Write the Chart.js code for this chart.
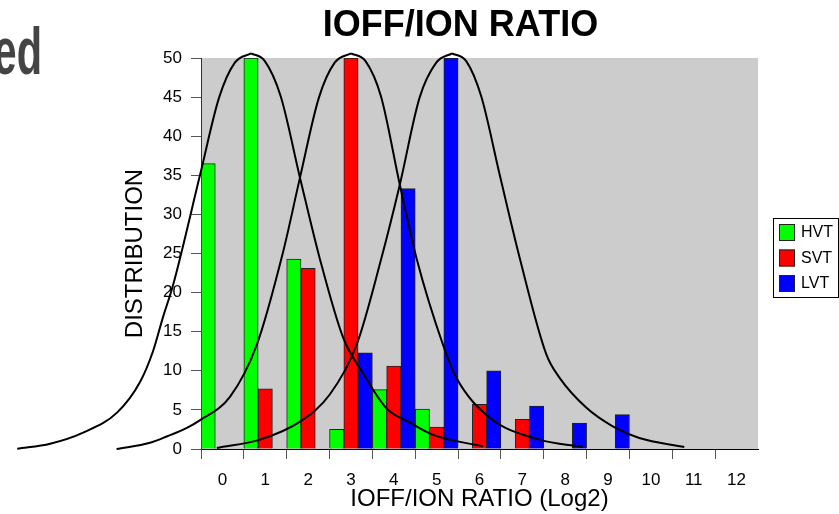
<!DOCTYPE html>
<html>
<head>
<meta charset="utf-8">
<script src="https://cdn.jsdelivr.net/npm/chart.js@4.4.1/dist/chart.umd.min.js"></script>
<style>
html,body{margin:0;padding:0;background:#fff;overflow:hidden}
#wrap{position:relative;width:839px;height:514px}
#wrap canvas{position:absolute;left:0;top:0}
#fit{pointer-events:none}
</style>
</head>
<body>
<div id="wrap"><canvas id="c" width="839" height="514"></canvas><canvas id="fit" width="839" height="514"></canvas></div>
<script>
// ---- data ----
const chartTitle = 'IOFF/ION RATIO';
const cornerText = 'ed';
const xTitle = 'IOFF/ION RATIO (Log2)';
const yTitle = 'DISTRIBUTION';
const categories = ['0','1','2','3','4','5','6','7','8','9','10','11','12'];
const seriesNames = ['HVT','SVT','LVT'];
const hvt = [36.5, 50, 24.3, 2.5, 7.6, 5.1, 0, 0, 0, 0, 0, 0, 0];
const svt = [0, 7.7, 23.1, 50, 10.6, 2.8, 5.7, 3.8, 0, 0, 0, 0, 0];
const lvt = [0, 0, 0, 12.3, 33.3, 50, 10.0, 5.5, 3.3, 4.4, 0, 0, 0];
const yTicks = [0, 5, 10, 15, 20, 25, 30, 35, 40, 45, 50];

// fitted curves (x in category units, y in distribution units)
const hvtFitX = [-4.79, -4.02, -3.25, -2.46, -1.92, -1.62, -1.39, -1.15, -0.52, -0.08, 0.29, 0.67, 0.99, 1.36, 1.81, 2.27, 2.82, 3.28, 3.83, 4.37, 4.92, 6.08];
const hvtFitY = [0.04, 0.68, 2.1, 4.65, 8.6, 12.5, 16.8, 21.0, 35.1, 44.9, 49.4, 50.6, 49.6, 45.1, 34.7, 24.4, 14.2, 9.7, 5.2, 3.4, 1.8, 0.33];
const svtFitX = [-2.47, -1.69, -1.30, -0.83, -0.52, 0.18, 0.80, 1.42, 1.81, 2.25, 2.62, 3.00, 3.34, 3.70, 4.14, 4.53, 5.15, 5.46, 6.24, 7.40, 8.41];
const svtFitY = [0.0, 0.8, 1.6, 2.7, 3.7, 6.7, 13.3, 25.3, 34.7, 44.9, 49.4, 50.6, 49.6, 45.1, 33.8, 24.4, 13.3, 9.1, 4.0, 1.2, 0.26];
const lvtFitX = [-0.13, 0.88, 1.81, 2.51, 3.13, 3.71, 4.14, 4.60, 4.99, 5.36, 5.69, 6.04, 6.47, 6.94, 7.56, 7.87, 8.49, 9.11, 9.73, 10.78];
const lvtFitY = [0.13, 1.2, 3.5, 7.0, 13.3, 24.4, 33.8, 44.9, 49.4, 50.6, 49.6, 45.1, 35.1, 24.4, 12.1, 9.1, 5.3, 2.9, 1.4, 0.26];

// ---- styles / layout ----
const FONT = '"Liberation Sans", Arial, Helvetica, sans-serif';
const barColors = ['#00ff00', '#ff0000', '#0000ff'];
const AREA = { left: 201, right: 81, top: 58, bottom: 65 }; // plot-area margins

const toPts = (xs, ys) => xs.map((x, i) => ({x: x, y: ys[i]}));

const decor = {
  id: 'decor',
  beforeDraw(chart) {
    const {ctx, chartArea: a} = chart;
    ctx.save();
    ctx.fillStyle = '#cccccc';
    ctx.fillRect(a.left, a.top, a.right - a.left, a.bottom - a.top);
    ctx.restore();
  },
  afterDraw(chart) {
    const ctx = chart.ctx;
    ctx.save();
    ctx.fillStyle = '#000';
    ctx.font = 'bold 36px ' + FONT;
    ctx.textAlign = 'center';
    ctx.textBaseline = 'alphabetic';
    ctx.fillText(chartTitle, 460.5, 36);
    ctx.save();
    ctx.fillStyle = '#444444';
    ctx.font = 'bold 67px ' + FONT;
    ctx.textAlign = 'right';
    ctx.scale(0.62, 1);
    ctx.fillText(cornerText, 42 / 0.62, 74);
    ctx.restore();
    const bars = chart.data.datasets;
    ctx.strokeStyle = '#000';
    ctx.lineWidth = 1;
    ctx.strokeRect(773.5, 218.5, 65, 79);
    ctx.font = '16px ' + FONT;
    ctx.textAlign = 'left';
    ctx.textBaseline = 'middle';
    bars.forEach((d, i) => {
      const top = 224 + i * 25.5;
      ctx.fillStyle = d.backgroundColor;
      ctx.fillRect(779, top, 16, 17);
      ctx.strokeStyle = '#222';
      ctx.strokeRect(779.5, top + 0.5, 15, 16);
      ctx.fillStyle = '#000';
      ctx.fillText(d.label, 801, top + 9);
    });
    ctx.restore();
  }
};

// ---- bar chart with axes ----
new Chart(document.getElementById('c'), {
  type: 'bar',
  data: {
    labels: categories,
    datasets: [hvt, svt, lvt].map((vals, i) => ({
      label: seriesNames[i], data: vals,
      backgroundColor: barColors[i], borderColor: '#222', borderWidth: 1,
      barPercentage: 1, categoryPercentage: 1
    }))
  },
  options: {
    responsive: false,
    animation: false,
    events: [],
    layout: { padding: { left: 0, right: AREA.right, top: AREA.top, bottom: 0 } },
    plugins: { legend: { display: false }, tooltip: { enabled: false }, title: { display: false } },
    scales: {
      x: {
        type: 'category', position: 'bottom', offset: true,
        grid: {
          display: true, drawOnChartArea: false, drawTicks: true, tickLength: 10, offset: true,
          color: ctx => ctx.type === 'tick' ? '#555' : 'rgba(0,0,0,0)', lineWidth: 1
        },
        border: { display: true, color: '#000', width: 1 },
        ticks: { color: '#000', font: { family: FONT, size: 17 }, padding: 11, maxRotation: 0, autoSkip: false },
        title: { display: true, text: xTitle, color: '#000', font: { family: FONT, size: 24 }, padding: { top: 0, bottom: 0 } },
        afterFit: s => { s.height = AREA.bottom; }
      },
      y: {
        type: 'linear', position: 'left', min: 0, max: 50,
        afterBuildTicks: s => { s.ticks = yTicks.map(v => ({value: v})); },
        grid: { display: true, drawOnChartArea: false, drawTicks: true, tickLength: 10, color: '#555' },
        border: { display: true, color: '#333', width: 1 },
        ticks: { color: '#000', font: { family: FONT, size: 17 }, padding: 9 },
        title: { display: true, text: yTitle, color: '#000', font: { family: FONT, size: 24 }, padding: { top: 121, bottom: 0 } },
        afterFit: s => { s.width = AREA.left; }
      }
    }
  },
  plugins: [decor]
});

// ---- fitted curves, overlaid on the same plot area ----
// each curve is drawn as a rising and a falling branch so the apex keeps its point
function fitDatasets(xs, ys) {
  const pts = toPts(xs, ys);
  const k = ys.indexOf(Math.max(...ys));
  const style = {
    borderColor: '#000', borderWidth: 2, pointRadius: 0,
    cubicInterpolationMode: 'monotone', capBezierPoints: false,
    fill: false, clip: false
  };
  return [Object.assign({data: pts.slice(0, k + 1)}, style), Object.assign({data: pts.slice(k)}, style)];
}
new Chart(document.getElementById('fit'), {
  type: 'line',
  data: { datasets: [...fitDatasets(hvtFitX, hvtFitY), ...fitDatasets(svtFitX, svtFitY), ...fitDatasets(lvtFitX, lvtFitY)] },
  options: {
    responsive: false,
    animation: false,
    events: [],
    layout: { padding: AREA },
    plugins: { legend: { display: false }, tooltip: { enabled: false }, title: { display: false } },
    scales: {
      x: {
        type: 'linear', display: false, bounds: 'data', offset: false,
        afterDataLimits: s => { s.min = -0.5; s.max = categories.length - 0.5; }
      },
      y: { type: 'linear', display: false, min: 0, max: 50 }
    }
  }
});
</script>
</body>
</html>
